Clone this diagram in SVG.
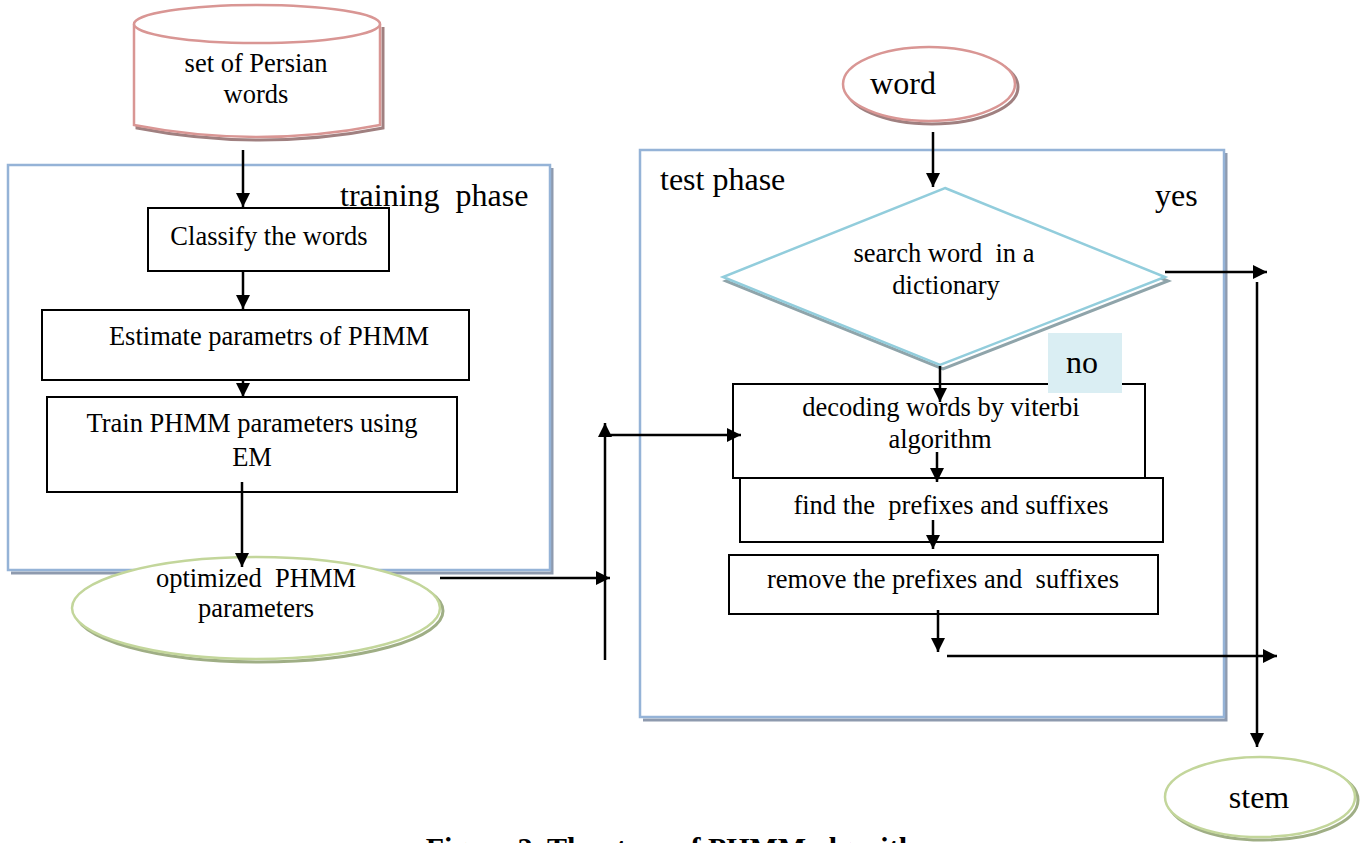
<svg xmlns="http://www.w3.org/2000/svg" width="1364" height="843" viewBox="0 0 1364 843">
<defs>
<marker id="ahb" viewBox="0 0 10 10" refX="10" refY="5" markerWidth="14" markerHeight="14" markerUnits="userSpaceOnUse" orient="auto">
<path d="M0,0 L10,5 L0,10 z" fill="#000"/>
</marker>
</defs>
<style>
text{font-family:"Liberation Serif","Times New Roman",serif;fill:#000;white-space:pre}
.t20{font-size:26.5px}
.t26{font-size:32px}
.box{fill:#fff;stroke:#000;stroke-width:2}
.phase{fill:none;stroke:#95b3d7;stroke-width:2.5}
.phsh{fill:none;stroke:#8e9aae;stroke-width:3}
.pink{fill:#fff;stroke:#d99694;stroke-width:2.5}
.pinksh{fill:none;stroke:#a08080;stroke-width:3}
.green{fill:#fff;stroke:#c3d69b;stroke-width:2.5}
.greensh{fill:none;stroke:#9fae85;stroke-width:3}
.conn{fill:none;stroke:#000;stroke-width:2.5}
</style>

<g id="training-phase">
<path class="phsh" d="M552,168 L552,573 L11,573"/>
<rect class="phase" x="8" y="165" width="542" height="405"/>
<text class="t26" x="340" y="206" xml:space="preserve">training  phase</text>
</g>

<g id="test-phase">
<path class="phsh" d="M1226,153 L1226,720 L643,720"/>
<rect class="phase" x="640" y="150" width="584" height="567"/>
<text class="t26" x="660" y="190">test phase</text>
<text class="t26" x="1155" y="206">yes</text>
</g>

<g id="persian-words">
<path class="pinksh" d="M137,27 L137,128 Q260,152 383,128 L383,27"/>
<path class="pink" d="M134,24 L134,125 Q257,149 380,125 L380,24"/>
<ellipse class="pink" cx="257" cy="24" rx="123" ry="19"/>
<text class="t20" x="256" y="72" text-anchor="middle">set of Persian</text>
<text class="t20" x="256" y="103" text-anchor="middle">words</text>
</g>

<g id="classify">
<rect class="box" x="148" y="208" width="241" height="63"/>
<text class="t20" x="269" y="245" text-anchor="middle">Classify the words</text>
</g>

<g id="estimate">
<rect class="box" x="42" y="310" width="427" height="70"/>
<text class="t20" x="269" y="345" text-anchor="middle">Estimate parametrs of PHMM</text>
</g>

<g id="train">
<rect class="box" x="47" y="397" width="410" height="95"/>
<text class="t20" x="252" y="432" text-anchor="middle">Train PHMM parameters using</text>
<text class="t20" x="252" y="466" text-anchor="middle">EM</text>
</g>

<g id="optimized">
<ellipse class="greensh" cx="259" cy="611" rx="184" ry="51"/>
<ellipse class="green" cx="256" cy="608" rx="184" ry="51"/>
<text class="t20" x="256" y="587" text-anchor="middle" xml:space="preserve">optimized  PHMM</text>
<text class="t20" x="256" y="617" text-anchor="middle">parameters</text>
</g>

<g id="word">
<ellipse class="pinksh" cx="932" cy="87" rx="86" ry="37"/>
<ellipse class="pink" cx="929" cy="84" rx="86" ry="37"/>
<text class="t26" x="903" y="94" text-anchor="middle">word</text>
</g>

<g id="search">
<path d="M946,192 L1168,281 L943,369 L726,281 z" fill="none" stroke="#8fa4aa" stroke-width="3"/>
<path d="M945,188 L1165,277 L940,365 L723,277 z" fill="#fff" stroke="#92cddc" stroke-width="2.5"/>
<text class="t20" x="944" y="262" text-anchor="middle" xml:space="preserve">search word  in a</text>
<text class="t20" x="946" y="294" text-anchor="middle">dictionary</text>
</g>

<g id="decoding">
<rect class="box" x="733" y="384" width="412" height="94"/>
<text class="t20" x="941" y="416" text-anchor="middle">decoding words by viterbi</text>
<text class="t20" x="940" y="448" text-anchor="middle">algorithm</text>
</g>

<g id="no-label">
<rect x="1048" y="333" width="74" height="60" fill="#daeef3"/>
<text class="t26" x="1082" y="373" text-anchor="middle">no</text>
</g>

<g id="find">
<rect class="box" x="740" y="478" width="423" height="64"/>
<text class="t20" x="951" y="514" text-anchor="middle" xml:space="preserve">find the  prefixes and suffixes</text>
</g>

<g id="remove">
<rect class="box" x="729" y="555" width="429" height="59"/>
<text class="t20" x="943" y="588" text-anchor="middle" xml:space="preserve">remove the prefixes and  suffixes</text>
</g>

<g id="stem">
<ellipse class="greensh" cx="1263" cy="800" rx="95" ry="40"/>
<ellipse class="green" cx="1260" cy="797" rx="95" ry="40"/>
<text class="t26" x="1259" y="808" text-anchor="middle">stem</text>
</g>

<g id="connectors">
<line class="conn" x1="243" y1="150" x2="243" y2="207" marker-end="url(#ahb)"/>
<line class="conn" x1="243" y1="271" x2="243" y2="309" marker-end="url(#ahb)"/>
<line class="conn" x1="243" y1="380" x2="243" y2="397" marker-end="url(#ahb)"/>
<line class="conn" x1="242" y1="482" x2="242" y2="567" marker-end="url(#ahb)"/>
<line class="conn" x1="440" y1="578" x2="610" y2="578" marker-end="url(#ahb)"/>
<line class="conn" x1="605" y1="660" x2="605" y2="423" marker-end="url(#ahb)"/>
<line class="conn" x1="605" y1="435" x2="741" y2="435" marker-end="url(#ahb)"/>
<line class="conn" x1="933" y1="132" x2="933" y2="187" marker-end="url(#ahb)"/>
<line class="conn" x1="1165" y1="272" x2="1267" y2="272" marker-end="url(#ahb)"/>
<line class="conn" x1="1257" y1="282" x2="1257" y2="747" marker-end="url(#ahb)"/>
<line class="conn" x1="940" y1="366" x2="940" y2="402" marker-end="url(#ahb)"/>
<line class="conn" x1="937" y1="452" x2="937" y2="482" marker-end="url(#ahb)"/>
<line class="conn" x1="933" y1="520" x2="933" y2="549" marker-end="url(#ahb)"/>
<line class="conn" x1="938" y1="610" x2="938" y2="652" marker-end="url(#ahb)"/>
<line class="conn" x1="947" y1="656" x2="1277" y2="656" marker-end="url(#ahb)"/>
</g>

<g id="caption">
<text x="683" y="858" text-anchor="middle" font-size="30" font-weight="bold">Figure 2. The steps of PHMM algorithm</text>
</g>
</svg>
